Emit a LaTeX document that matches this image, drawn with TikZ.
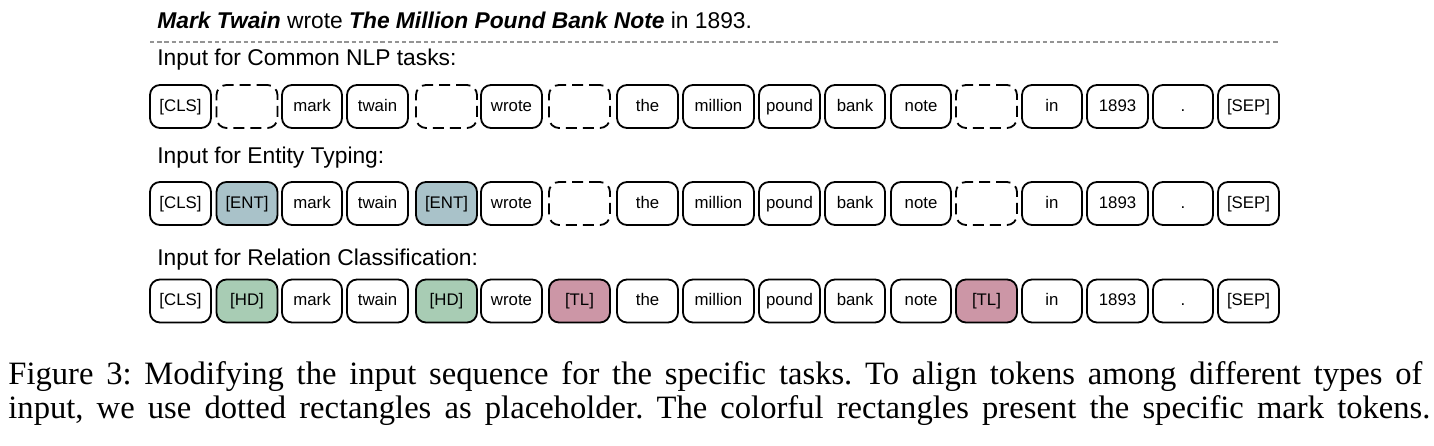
\documentclass[tikz,border=0pt]{standalone}
\usepackage{fontspec}
\setmainfont{Liberation Sans}
\newfontfamily\capfont{Liberation Serif}
\usepackage{tikz}
\usetikzlibrary{calc}

\definecolor{entblue}{RGB}{169,194,201}
\definecolor{hdgreen}{RGB}{168,204,180}
\definecolor{tlpink}{RGB}{204,150,166}

\tikzset{
	tok/.style={draw, line width=0.9pt, rounded corners=5pt, minimum height=21.5pt, minimum width=30.5pt, inner sep=0pt, text height=6.3pt, text depth=1.8pt, font=\fontsize{8.4}{10}\selectfont},
	blank/.style={dash pattern=on 5.5pt off 3pt},
	ent/.style={fill=entblue},
	hd/.style={fill=hdgreen},
	tl/.style={fill=tlpink},
	rowhead/.style={anchor=base west, inner sep=0pt, font=\fontsize{11.4}{13}\selectfont},
	captext/.style={anchor=base west, inner sep=0pt, font=\capfont\fontsize{16.3}{18}\selectfont\frenchspacing},
}

\begin{document}
\begin{tikzpicture}[x=0.5pt, y=-0.5pt]
		%%%%% START %%%%%
		\useasboundingbox (0, 0) rectangle (1434, 445);
		
		\node[rowhead] (title) at (157, 28.5) {\textbf{\textit{Mark Twain}} wrote \textbf{\textit{The Million Pound Bank Note}} in 1893.};
		\draw[line width=1pt, color=black!42, dash pattern=on 2.2pt off 1.4pt] (150, 41.5) -- (1280, 41.5);
		
		\node[rowhead] (head1) at (157, 65.5) {Input for Common NLP tasks:};
		\node[rowhead] (head2) at (157, 163.3) {Input for Entity Typing:};
		\node[rowhead] (head3) at (157, 265) {Input for Relation Classification:};
		
		% tokens shared by all three rows
		\foreach \r/\y in {a/106.5, b/203.5, c/301} {
			\foreach \i/\x/\w/\t in {1/180.5/61/{[CLS]}, 3/312/60/mark, 4/377.5/61/twain, 6/511.5/61/wrote, 8/647.5/61/the, 9/718.5/71/million, 10/789.5/61/pound, 11/855/60/bank, 12/921/60/note, 14/1052/60/in, 15/1117.5/61/1893, 16/1183/60/., 17/1248.5/61/{[SEP]}}
				\node[tok, minimum width=\w*0.5pt] (\r\i) at (\x, \y) {\t};
		}
		
		% placeholders
		\foreach \i/\x in {2/247, 5/446.5, 7/579.5, 13/986.5}
			\node[tok, blank] (a\i) at (\x, 106.5) {};
		\foreach \i/\x in {7/579.5, 13/986.5}
			\node[tok, blank] (b\i) at (\x, 203.5) {};
		
		% mark tokens
		\node[tok, ent] (b2) at (247, 203.5) {[ENT]};
		\node[tok, ent] (b5) at (446.5, 203.5) {[ENT]};
		\node[tok, hd] (c2) at (247, 301) {[HD]};
		\node[tok, hd] (c5) at (446.5, 301) {[HD]};
		\node[tok, tl] (c7) at (579.5, 301) {[TL]};
		\node[tok, tl] (c13) at (986.5, 301) {[TL]};
		
		% caption
		\node[captext] (cap1) at (8, 384) {\hbox to 707pt{Figure 3: Modifying the input sequence for the specific tasks. To align tokens among different types of}};
		\node[captext] (cap2) at (8, 418) {\hbox to 711pt{input, we use dotted rectangles as placeholder. The colorful rectangles present the specific mark tokens.}};
		
		%%%%% END %%%%%
	\end{tikzpicture}
\end{document}
